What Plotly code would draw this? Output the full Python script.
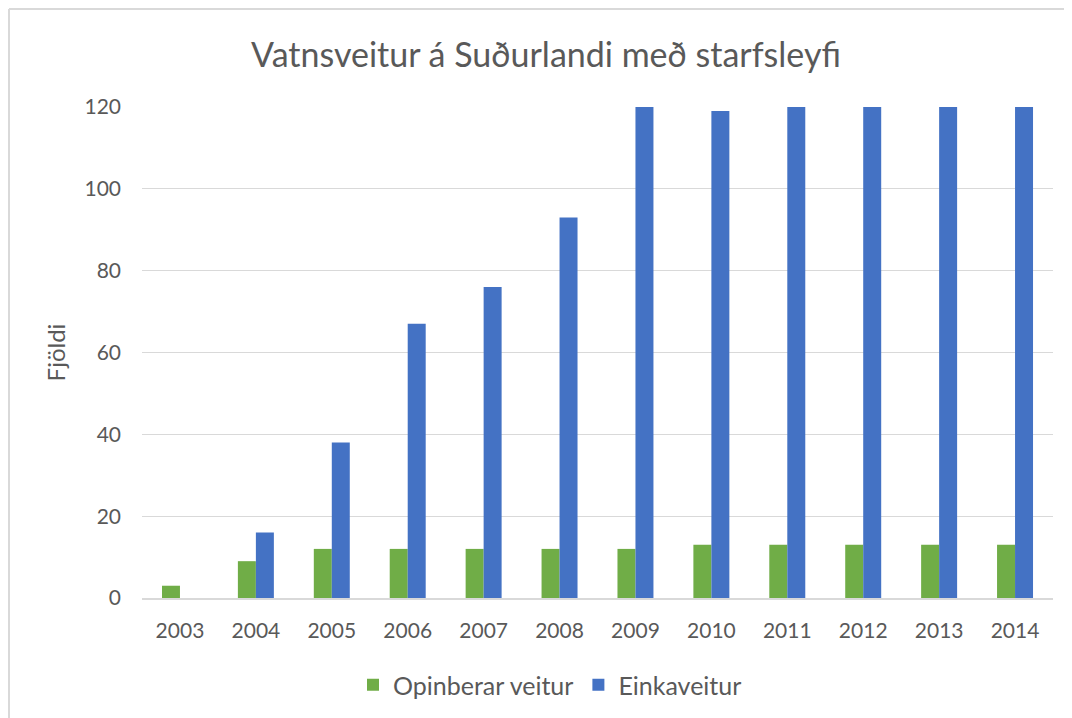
import plotly.graph_objects as go

years = ["2003", "2004", "2005", "2006", "2007", "2008", "2009", "2010", "2011", "2012", "2013", "2014"]
opinberar = [3, 9, 12, 12, 12, 12, 12, 13, 13, 13, 13, 13]
einka = [0, 16, 38, 67, 76, 93, 120, 119, 120, 120, 120, 120]
y_ticks = [0, 20, 40, 60, 80, 100, 120]

# figure is placed at (8, 8) on the page by the body margin
W, H = 1064, 710
L, R, T, B = 134, 19, 99, 120
PW, PH = W - L - R, H - T - B

fig = go.Figure()
fig.add_trace(go.Bar(x=years, y=opinberar, name="Opinberar veitur",
                     marker=dict(color="#70AD47", line=dict(width=0))))
fig.add_trace(go.Bar(x=years, y=einka, name="Einkaveitur",
                     marker=dict(color="#4472C4", line=dict(width=0))))

font_family = "Lato, 'Open Sans', sans-serif"

fig.update_layout(
    width=W, height=H,
    margin=dict(l=L, r=R, t=T, b=B, autoexpand=False),
    paper_bgcolor="white", plot_bgcolor="white",
    barmode="group", bargap=0.526, bargroupgap=0,
    title=dict(text="Vatnsveitur á Suðurlandi með starfsleyfi",
               x=(546 - 8) / W, xref="container", xanchor="center",
               y=1 - 47 / H, yref="container", yanchor="middle",
               font=dict(family=font_family, size=34, color="#595959")),
    font=dict(family=font_family, color="#595959", size=21),
    showlegend=True,
    legend=dict(orientation="h", xref="container", x=(550 - 8) / W, xanchor="center",
                y=-(677 - (H - B)) / PH, yanchor="middle",
                font=dict(size=25, color="#595959"),
                itemwidth=30, traceorder="normal"),
    xaxis=dict(type="category", showgrid=False, showline=True,
               linecolor="#d9d9d9", linewidth=1.5, ticks="",
               tickfont=dict(size=21, color="#595959"), ticklabelstandoff=13),
    yaxis=dict(range=[0, 120], tickvals=y_ticks, showgrid=True,
               gridcolor="#d9d9d9", gridwidth=1, zeroline=False,
               showline=False, ticks="",
               tickfont=dict(size=21, color="#595959"), ticklabelstandoff=20,
               title=dict(text="Fjöldi", font=dict(size=24, color="#595959"), standoff=12)),
)

# outer chart frame (light grey border at the figure's top and left edges)
fx0 = (1 - L) / PW
fy0 = (H - B - 1) / PH
fig.add_shape(type="line", xref="paper", yref="paper",
              x0=fx0, x1=(W + 5 - L) / PW, y0=fy0, y1=fy0,
              line=dict(color="#d9d9d9", width=2), layer="below")
fig.add_shape(type="line", xref="paper", yref="paper",
              x0=fx0, x1=fx0, y0=fy0, y1=-(B + 5) / PH,
              line=dict(color="#d9d9d9", width=2), layer="below")

fig.write_html("out.html")
